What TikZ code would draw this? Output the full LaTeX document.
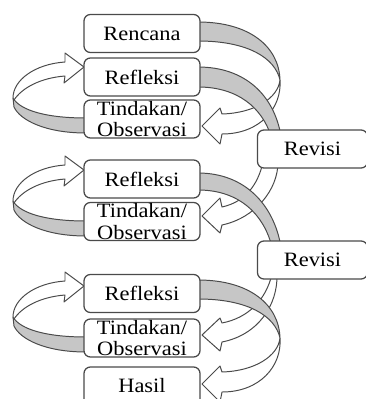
\documentclass[tikz,border=0pt]{standalone}
\usepackage{fontspec}
\setmainfont{Liberation Serif}[FakeStretch=1.1]
\usetikzlibrary{backgrounds}
\definecolor{garis}{HTML}{4A4A4A}
\definecolor{pita}{HTML}{C6C6C6}
\tikzset{
  tahap/.style={draw=garis, line width=0.9pt, rounded corners=1.6mm, fill=white,
    minimum width=29mm, minimum height=9.5mm, inner sep=0pt, align=center,
    font=\fontsize{14.5}{15.5}\selectfont},
  pitabelakang/.style={draw=garis, line width=0.7pt, line join=round, fill=pita},
  pitadepan/.style={draw=garis, line width=0.7pt, line join=round, fill=white}
}
\begin{document}
\begin{tikzpicture}[x=0.25mm, y=-0.25mm]
                \useasboundingbox (0,0) rectangle (366,399);
                \node[tahap] (rencana) at (142,33.5) {Rencana};
                \node[tahap] (refleksi1) at (142,77) {Refleksi};
                \node[tahap] (tindakan1) at (142,119) {Tindakan/\\Observasi};
                \node[tahap, minimum width=27.5mm] (revisi1) at (312.5,149) {Revisi};
                \node[tahap] (refleksi2) at (142,179) {Refleksi};
                \node[tahap] (tindakan2) at (142,221.5) {Tindakan/\\Observasi};
                \node[tahap, minimum width=27.5mm] (revisi2) at (312.5,260) {Revisi};
                \node[tahap] (refleksi3) at (142,293.5) {Refleksi};
                \node[tahap] (tindakan3) at (142,338) {Tindakan/\\Observasi};
                \node[tahap] (hasil) at (142,386) {Hasil};

                \begin{pgfonlayer}{background}
                % putaran kiri: tindakan ke refleksi
                \foreach \geser in {0,103,219} {
                \begin{scope}[shift={(0,\geser)}]
                \draw[pitabelakang] (13,98) .. controls (20,110) and (45,118) .. (86,118) -- (86,133) .. controls (45,133) and (20,120) .. (14,107) -- cycle;
                \draw[pitadepan] (13,98) .. controls (13,80) and (35,64) .. (65,62) -- (65,53) -- (84,67) -- (64,83) -- (65,76) .. controls (40,78) and (22,88) .. (14,100) -- cycle;
                \end{scope}
                }
                % rencana ke tindakan 1
                \draw[pitabelakang] (198,22) .. controls (250,22) and (279,47) .. (280,80) .. controls (275,58) and (248,41) .. (198,41) -- cycle;
                \draw[pitadepan] (280,80) .. controls (278,98) and (255,113) .. (222,114) -- (220,108) -- (202,126) -- (220,144) -- (222,134) .. controls (260,134) and (282,108) .. (280,80) -- cycle;
                % refleksi 1 ke revisi 1 ke tindakan 2
                \draw[pitabelakang] (198,67) .. controls (245,67) and (274,95) .. (281,136) -- (271,136) .. controls (262,108) and (238,87) .. (198,87) -- cycle;
                \draw[pitadepan] (263,162) .. controls (258,185) and (245,202) .. (222,207) -- (220,198) -- (202,216) -- (220,233) -- (222,225) .. controls (255,218) and (278,190) .. (278,162) -- cycle;
                % refleksi 2 ke revisi 2 ke tindakan 3
                \draw[pitabelakang] (198,173) .. controls (245,173) and (274,205) .. (281,247) -- (272,247) .. controls (264,215) and (240,190) .. (198,190) -- cycle;
                \draw[pitadepan] (272,274) .. controls (266,300) and (248,318) .. (222,323) -- (220,318) -- (202,335) -- (220,351) -- (222,342) .. controls (258,335) and (278,305) .. (277,274) -- cycle;
                % refleksi 3 ke hasil
                \begin{scope}[shift={(0,258)}]
                \draw[pitabelakang] (198,22) .. controls (250,22) and (279,47) .. (280,80) .. controls (275,58) and (248,41) .. (198,41) -- cycle;
                \draw[pitadepan] (280,80) .. controls (278,98) and (255,113) .. (222,114) -- (220,108) -- (202,126) -- (220,144) -- (222,134) .. controls (260,134) and (282,108) .. (280,80) -- cycle;
                \end{scope}
                \end{pgfonlayer}
            \end{tikzpicture}
\end{document}
